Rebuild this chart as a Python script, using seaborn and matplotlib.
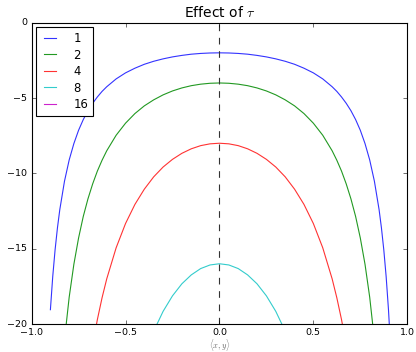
import numpy as np
import pandas as pd
import matplotlib
matplotlib.use("Agg")
import matplotlib.pyplot as plt
import seaborn as sns

# values
x_vals = [-0.9, -0.8875, -0.875, -0.8625, -0.85, -0.825, -0.8, -0.775, -0.75, -0.725,
          -0.7, -0.675, -0.65, -0.625, -0.6, -0.55, -0.5, -0.45, -0.4, -0.35,
          -0.3, -0.25, -0.2, -0.15, -0.1, -0.05, 0.0, 0.05, 0.1, 0.15,
          0.2, 0.25, 0.3, 0.35, 0.4, 0.45, 0.5, 0.55, 0.6, 0.625,
          0.65, 0.675, 0.7, 0.725, 0.75, 0.775, 0.8, 0.825, 0.85, 0.8625,
          0.875, 0.8875, 0.9, 0.91]

y_tau1 = [-19.05, -16.84, -15.07, -13.62, -12.41, -10.52, -9.11, -8.02, -7.14, -6.43,
          -5.84, -5.35, -4.93, -4.56, -4.25, -3.73, -3.33, -3.02, -2.76, -2.56,
          -2.40, -2.27, -2.17, -2.09, -2.04, -2.01, -2.00, -2.01, -2.04, -2.09,
          -2.17, -2.27, -2.40, -2.56, -2.76, -3.02, -3.33, -3.73, -4.25, -4.56,
          -4.93, -5.35, -5.84, -6.43, -7.14, -8.02, -9.11, -10.52, -12.41, -13.62,
          -15.07, -16.84, -19.05, -21.27]

y_tau2 = [-38.11, -33.68, -30.13, -27.24, -24.83, -21.05, -18.22, -16.03, -14.29, -12.86,
          -11.69, -10.70, -9.85, -9.13, -8.50, -7.47, -6.67, -6.03, -5.52, -5.12,
          -4.79, -4.53, -4.33, -4.18, -4.08, -4.02, -4.00, -4.02, -4.08, -4.18,
          -4.33, -4.53, -4.79, -5.12, -5.52, -6.03, -6.67, -7.47, -8.50, -9.13,
          -9.85, -10.70, -11.69, -12.86, -14.29, -16.03, -18.22, -21.05, -24.83, -27.24,
          -30.13, -33.68, -38.11, -42.54]

y_tau4 = [-76.21, -67.35, -60.27, -54.48, -49.66, -42.10, -36.44, -32.06, -28.57, -25.73,
          -23.37, -21.39, -19.71, -18.26, -17.00, -14.94, -13.33, -12.06, -11.05, -10.23,
          -9.58, -9.07, -8.67, -8.37, -8.16, -8.04, -8.00, -8.04, -8.16, -8.37,
          -8.67, -9.07, -9.58, -10.23, -11.05, -12.06, -13.33, -14.94, -17.00, -18.26,
          -19.71, -21.39, -23.37, -25.73, -28.57, -32.06, -36.44, -42.10, -49.66, -54.48,
          -60.27, -67.35, -76.21, -85.08]

y_tau8 = [-152.42, -134.70, -120.53, -108.96, -99.32, -84.20, -72.89, -64.13, -57.14, -51.46,
          -46.75, -42.78, -39.41, -36.51, -34.00, -29.88, -26.67, -24.13, -22.10, -20.47,
          -19.16, -18.13, -17.33, -16.74, -16.32, -16.08, -16.00, -16.08, -16.32, -16.74,
          -17.33, -18.13, -19.16, -20.47, -22.10, -24.13, -26.67, -29.88, -34.00, -36.51,
          -39.41, -42.78, -46.75, -51.46, -57.14, -64.13, -72.89, -84.20, -99.32, -108.96,
          -120.53, -134.70, -152.42, -170.16]

y_tau16 = [-304.84, -269.40, -241.07, -217.91, -198.63, -168.39, -145.78, -128.25, -114.29, -102.91,
           -93.49, -85.57, -78.82, -73.03, -68.00, -59.76, -53.33, -48.25, -44.19, -40.93,
           -38.33, -36.27, -34.67, -33.47, -32.65, -32.16, -32.00, -32.16, -32.65, -33.47,
           -34.67, -36.27, -38.33, -40.93, -44.19, -48.25, -53.33, -59.76, -68.00, -73.03,
           -78.82, -85.57, -93.49, -102.91, -114.29, -128.25, -145.78, -168.39, -198.63, -217.91,
           -241.07, -269.40, -304.84, -340.31]

taus = ["1", "2", "4", "8", "16"]
series = [y_tau1, y_tau2, y_tau4, y_tau8, y_tau16]

df = pd.concat([pd.DataFrame({"x": x_vals, "y": ys, "tau": t}) for t, ys in zip(taus, series)],
               ignore_index=True)

plt.style.use("classic")
colors = ["#3333ff", "#229922", "#ff3333", "#33cccc", "#cc22cc"]

fig, ax = plt.subplots(figsize=(5.2, 4.4), dpi=80)
fig.subplots_adjust(left=0.076, right=0.979, top=0.9355, bottom=0.0795)

sns.lineplot(data=df, x="x", y="y", hue="tau", hue_order=taus, palette=colors,
             sort=False, estimator=None, linewidth=1.0, ax=ax)
ax.axvline(0.0, color="#333333", linestyle="--", linewidth=1.0)

ax.set_xlim(-1, 1)
ax.set_ylim(-20, 0)
ax.set_xticks([-1.0, -0.5, 0.0, 0.5, 1.0])
ax.set_yticks([0, -5, -10, -15, -20])
ax.tick_params(labelsize=8.5)
ax.set_title(r"Effect of $\tau$", fontsize=12.5)
ax.set_xlabel(r"$\langle x,y\rangle$", fontsize=7.5, color="#666666", labelpad=0)
ax.set_ylabel("")

handles, labels = ax.get_legend_handles_labels()
ax.legend(handles[:5], taus, loc="upper left", fontsize=10.5, handlelength=1.6,
          handletextpad=1.2, labelspacing=0.3, borderaxespad=0.4)

fig.savefig("out.png", dpi=80)
